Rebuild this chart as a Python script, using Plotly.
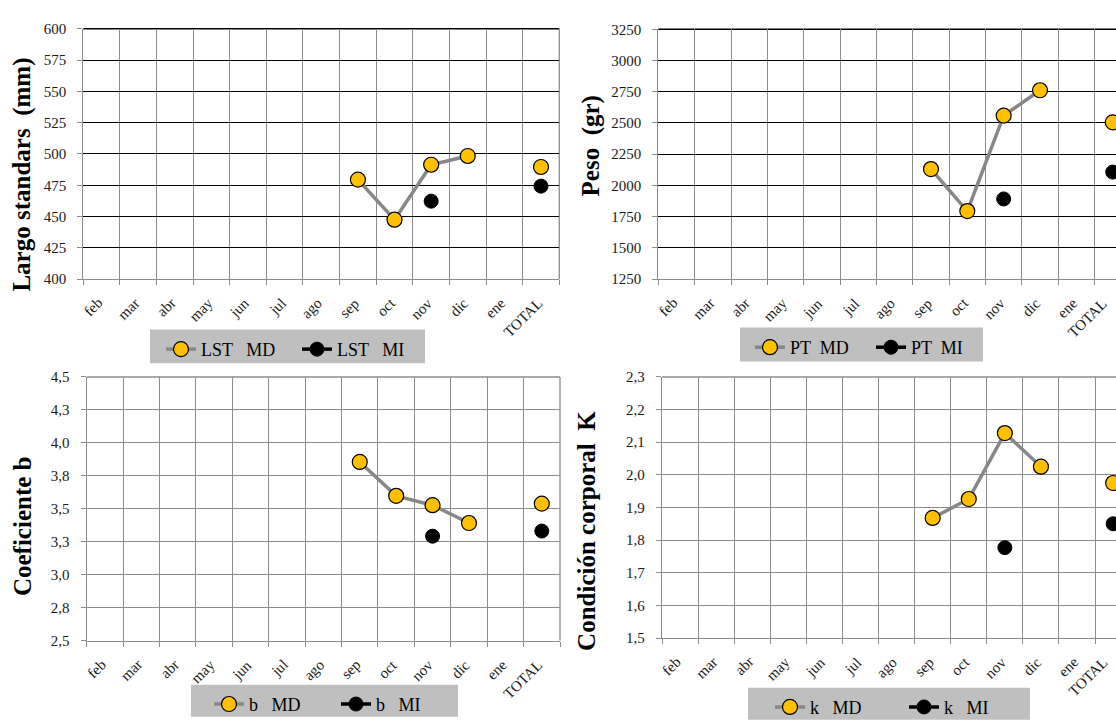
import plotly.graph_objects as go

W, H = 1116, 726

# Month categories shared by all four panels
categories = ["feb", "mar", "abr", "may", "jun", "jul", "ago", "sep", "oct", "nov", "dic", "ene", "TOTAL"]

# Largo standard (mm)
lst_md = [None, None, None, None, None, None, None, 479.5, 447.5, 491.4, 498.4, None, 489.6]
lst_mi = [None, None, None, None, None, None, None, None, None, 462.3, None, None, 474.3]

# Peso total (gr)
pt_md = [None, None, None, None, None, None, None, 2131, 1795, 2559, 2762, None, 2505]
pt_mi = [None, None, None, None, None, None, None, None, None, 1892, None, None, 2107]

# Coeficiente b
b_md = [None, None, None, None, None, None, None, 3.855, 3.598, 3.527, 3.392, None, 3.539]
b_mi = [None, None, None, None, None, None, None, None, None, 3.292, None, None, 3.331]

# Condicion corporal K
k_md = [None, None, None, None, None, None, None, 1.868, 1.926, 2.128, 2.025, None, 1.975]
k_mi = [None, None, None, None, None, None, None, None, None, 1.777, None, None, 1.850]

# Y-axis ticks and their labels
lst_ticks = [400, 425, 450, 475, 500, 525, 550, 575, 600]
lst_labels = ["400", "425", "450", "475", "500", "525", "550", "575", "600"]
pt_ticks = [1250, 1500, 1750, 2000, 2250, 2500, 2750, 3000, 3250]
pt_labels = ["1250", "1500", "1750", "2000", "2250", "2500", "2750", "3000", "3250"]
b_ticks = [2.5, 2.75, 3.0, 3.25, 3.5, 3.75, 4.0, 4.25, 4.5]
b_labels = ["2,5", "2,8", "3,0", "3,3", "3,5", "3,8", "4,0", "4,3", "4,5"]
k_ticks = [1.5, 1.6, 1.7, 1.8, 1.9, 2.0, 2.1, 2.2, 2.3]
k_labels = ["1,5", "1,6", "1,7", "1,8", "1,9", "2,0", "2,1", "2,2", "2,3"]

# category slots on a linear x axis: labels at slot centres, grid on slot edges
slot = list(range(len(categories)))
slot_edges = [k - 0.5 for k in range(len(categories) + 1)]

GOLD = "#FFC000"
LINE_GRAY = "#878787"
GRID_GRAY = "#8C8C8C"
LEG_BG = "#BFBFBF"
TICK_FONT = dict(family="Liberation Serif", size=15, color="#1a1a1a")
LEG_FONT = dict(family="Liberation Serif", size=18, color="#000000")
TITLE_FONT = dict(family="Liberation Serif", size=25, color="#000000")

# Panel boxes in pixels: left, right, top, bottom
panels = [
    dict(x0=83.3, x1=559.3, top=21.5, bottom=280.0, xend=12.5),
    dict(x0=658.3, x1=W, top=22.0, bottom=280.0, xend=12.09),
    dict(x0=86.7, x1=560.0, top=381.0, bottom=653.3, xend=12.5),
    dict(x0=662.0, x1=W, top=381.0, bottom=650.7, xend=12.08),
]

series = [
    ("LST   MD", lst_md, "LST   MI", lst_mi, lst_ticks, lst_labels, [400, 600], "#000000"),
    ("PT  MD", pt_md, "PT  MI", pt_mi, pt_ticks, pt_labels, [1250, 3250], "#000000"),
    ("b   MD", b_md, "b   MI", b_mi, b_ticks, b_labels, [2.5, 4.5], GRID_GRAY),
    ("k   MD", k_md, "k   MI", k_mi, k_ticks, k_labels, [1.5, 2.3], GRID_GRAY),
]

# legend boxes (left, right, top, bottom), first symbol x, entry width
legend_box = [
    (150, 425, 332, 367, 166, 91),
    (740, 983, 330, 365, 755, 76),
    (191, 458, 699, 732, 214, 82),
    (748, 1030, 702, 735, 775, 89),
]

titles = [
    ("Largo standars  (mm)", 22, 172),
    ("Peso  (gr)", 591, 143),
    ("Coeficiente b", 22, 535),
    ("Condición corporal  K", 587, 540),
]

fig = go.Figure()
layout = dict(
    width=W, height=H,
    margin=dict(l=0, r=0, t=0, b=0),
    paper_bgcolor="white", plot_bgcolor="white",
    showlegend=True,
    annotations=[], shapes=[],
)

for i, (p, s) in enumerate(zip(panels, series)):
    n = "" if i == 0 else str(i + 1)
    xa, ya = "x" + n, "y" + n
    leg = "legend" + n
    md_name, md_vals, mi_name, mi_vals, yt, yl, yr, hgrid = s

    fig.add_trace(go.Scatter(
        x=slot, y=md_vals, name=md_name, mode="lines+markers",
        xaxis=xa, yaxis=ya, legend=leg, connectgaps=False,
        line=dict(color=LINE_GRAY, width=3.5),
        marker=dict(color=GOLD, size=15, line=dict(color="#000000", width=1.2)),
    ))
    fig.add_trace(go.Scatter(
        x=slot, y=mi_vals, name=mi_name, mode="lines+markers",
        xaxis=xa, yaxis=ya, legend=leg, connectgaps=False,
        line=dict(color="#000000", width=3.5),
        marker=dict(color="#000000", size=14, line=dict(color="#000000", width=1)),
    ))

    layout["xaxis" + n] = dict(
        domain=[p["x0"] / W, min(p["x1"] / W, 1.0)],
        anchor=ya, type="linear", range=[-0.5, p["xend"]],
        tickmode="array", tickvals=slot, showticklabels=False,
        ticks="", showgrid=False,
        minor=dict(tickmode="array", tickvals=slot_edges, ticks="outside", ticklen=5,
                   tickcolor=GRID_GRAY, tickwidth=1.3,
                   showgrid=True, gridcolor=GRID_GRAY, gridwidth=1.3),
        showline=True, linecolor=GRID_GRAY, linewidth=1.3,
        fixedrange=True, zeroline=False,
    )
    layout["yaxis" + n] = dict(
        domain=[1 - p["bottom"] / H, 1 - p["top"] / H],
        anchor=xa, range=yr, tickvals=yt, ticktext=yl,
        ticks="outside", ticklen=5, tickcolor=GRID_GRAY, tickwidth=1.3,
        showgrid=True, gridcolor=hgrid, gridwidth=1.4,
        showline=True, linecolor=GRID_GRAY, linewidth=1.3,
        tickfont=TICK_FONT, ticklabelstandoff=8, zeroline=False, fixedrange=True,
    )

    # slanted month labels under each slot; the last one is nudged inside
    # the page on the panels that run off the right edge
    cut = p["xend"] < 12.5
    for k, cat in enumerate(categories):
        nudge = -7 if (cut and k == len(categories) - 1) else 0
        layout["annotations"].append(dict(
            text=cat, xref=xa, yref=ya + " domain", x=k, y=0,
            xanchor="right", yanchor="top", textangle=-45,
            xshift=7 + nudge, yshift=-13, showarrow=False, font=TICK_FONT,
        ))

    # top edge and right edge of the plot frame
    layout["shapes"].append(dict(
        type="line", xref=xa + " domain", yref=ya + " domain",
        x0=0, x1=1, y0=1, y1=1, line=dict(color=hgrid, width=1.4), layer="below",
    ))
    if not cut:
        layout["shapes"].append(dict(
            type="line", xref=xa + " domain", yref=ya + " domain",
            x0=1, x1=1, y0=0, y1=1, line=dict(color=GRID_GRAY, width=1.3), layer="below",
        ))

    # grey legend panel
    bl, br, bt, bb, sym_x, entry_w = legend_box[i]
    layout["shapes"].append(dict(
        type="rect", xref="paper", yref="paper",
        x0=bl / W, x1=br / W, y0=1 - bb / H, y1=1 - bt / H,
        fillcolor=LEG_BG, line=dict(width=0), layer="below",
    ))
    centre = (bt + bb) / 2 if bb <= H else bt + 17
    layout[leg] = dict(
        x=(sym_x - 5) / W, y=1 - (centre - 16) / H, xanchor="left", yanchor="top",
        orientation="h", bgcolor="rgba(0,0,0,0)", font=LEG_FONT,
        borderwidth=0, itemclick=False, itemdoubleclick=False,
        entrywidth=entry_w, entrywidthmode="pixels",
    )

    t, tx, ty = titles[i]
    layout["annotations"].append(dict(
        text="<b>" + t + "</b>", xref="paper", yref="paper",
        x=tx / W, y=1 - ty / H, xanchor="center", yanchor="middle",
        textangle=-90, showarrow=False, font=TITLE_FONT,
    ))

fig.update_layout(**layout)
fig.write_html("out.html")
